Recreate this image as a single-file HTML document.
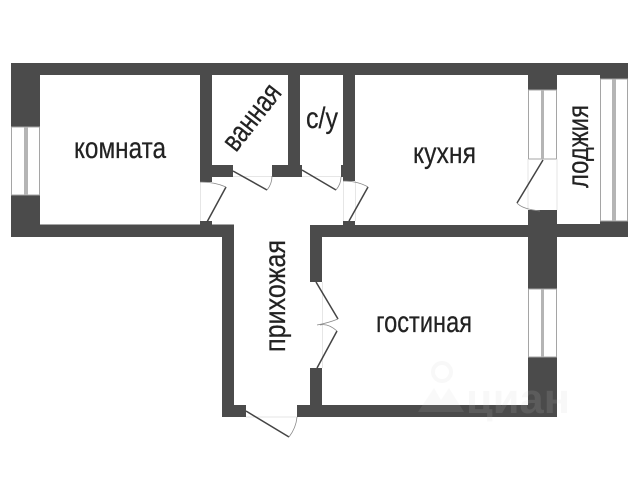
<!DOCTYPE html>
<html><head><meta charset="utf-8"><style>
html,body{margin:0;padding:0;background:#fff}
svg{display:block}
text{font-family:"Liberation Sans",sans-serif;fill:#222;font-size:30px;stroke:#222;stroke-width:0.25px}
</style></head><body>
<svg width="640" height="480" viewBox="0 0 640 480" xmlns="http://www.w3.org/2000/svg">
<rect width="640" height="480" fill="#fff"/>
<g fill="#4b4b4b">
<rect x="11" y="63" width="617" height="12"/>
<rect x="11" y="63" width="29" height="64"/>
<rect x="11" y="195" width="29" height="42"/>
<rect x="11" y="224.500" width="223" height="12.500"/>
<rect x="200" y="63" width="12" height="119"/>
<rect x="200" y="165" width="33" height="12"/>
<rect x="272" y="165" width="30" height="12"/>
<rect x="288" y="63" width="12" height="114"/>
<rect x="343" y="63" width="12" height="118"/>
<rect x="341" y="165" width="4" height="12"/>
<rect x="200" y="221" width="12" height="5"/>
<rect x="343" y="221" width="12" height="5"/>
<rect x="222" y="225" width="12" height="192"/>
<rect x="222" y="405" width="24" height="12"/>
<rect x="310" y="225" width="218" height="12"/>
<rect x="310" y="225" width="12" height="57"/>
<rect x="310" y="368" width="12" height="49"/>
<rect x="297" y="405" width="260" height="12"/>
<rect x="528" y="63" width="29" height="27"/>
<rect x="528" y="210" width="29" height="79"/>
<rect x="528" y="357" width="29" height="60"/>
<rect x="528" y="224" width="100" height="13"/>
<rect x="600" y="63" width="28" height="16"/>
<rect x="600" y="221" width="28" height="16"/>
</g>
<!-- windows -->
<g fill="#fff" stroke="#a5a5a5" stroke-width="1">
<rect x="11.500" y="127" width="28" height="68"/>
<rect x="528.500" y="90" width="28" height="69"/>
<rect x="528.500" y="289" width="28" height="68"/>
<rect x="600.500" y="79" width="27" height="142"/>
</g>
<g fill="#b5b5b5">
<rect x="24" y="127" width="4" height="68"/>
<rect x="541" y="90" width="3" height="69"/>
<rect x="541" y="289" width="3" height="68"/>
<rect x="612" y="79" width="4" height="142"/>
</g>
<!-- door openings -->
<g stroke="#e6e6e6" stroke-width="1" fill="none">
<path d="M233 176.500H272M302 176.500H341M200.500 182V221M343.500 181V221M355.500 181V221M528 159V210M557 159V210M322.500 282V368M246 417H297"/>
</g>
<!-- doors -->
<g stroke="#444" stroke-width="1.500" fill="none">
<path d="M233 171L267 190"/>
<path d="M302 170L336 190"/>
<path d="M226 187L207 222"/>
<path d="M368 187L349 221"/>
<path d="M543 160L517 203"/>
<path d="M246 411L289 437"/>
<path d="M316 282L338 319"/>
<path d="M317 368L337 331"/>
</g>
<g stroke="#888" stroke-width="0.800" fill="none">
<path d="M267 190Q272 184 272 176"/>
<path d="M336 190Q341 184 341 177"/>
<path d="M200 182Q215 182 226 187"/>
<path d="M343 181Q358 181 368 187"/>
<path d="M517 203Q522 209 540 211"/>
<path d="M289 437Q296 428 297 417"/>
<path d="M338 319Q328 323 317 325"/>
<path d="M337 331Q328 323 320 325"/>
</g>
<!-- labels -->
<text x="74" y="158" textLength="92" lengthAdjust="spacingAndGlyphs">комната</text>
<text x="413" y="163" textLength="63" lengthAdjust="spacingAndGlyphs">кухня</text>
<text x="376" y="332" textLength="96" lengthAdjust="spacingAndGlyphs">гостиная</text>
<text x="306" y="128" textLength="32" lengthAdjust="spacingAndGlyphs">с/у</text>
<text transform="translate(236 153) rotate(-52)" textLength="76" lengthAdjust="spacingAndGlyphs">ванная</text>
<text transform="translate(285 352) rotate(-90)" textLength="112" lengthAdjust="spacingAndGlyphs">прихожая</text>
<text transform="translate(588 188) rotate(-90)" textLength="83" lengthAdjust="spacingAndGlyphs">лоджия</text>
<!-- watermark -->
<g>
<circle cx="442" cy="372" r="9" fill="none" stroke="#f8f8f8" stroke-width="4"/>
<path d="M418 412L434 388L441 400L449 388L464 412Z" fill="#ccc" opacity="0.12"/>
<text x="466" y="413" style="font-size:42px;font-weight:bold;fill:#ccc;stroke:none;opacity:0.13" textLength="104" lengthAdjust="spacingAndGlyphs">циан</text>
</g>
</svg>
</body></html>
